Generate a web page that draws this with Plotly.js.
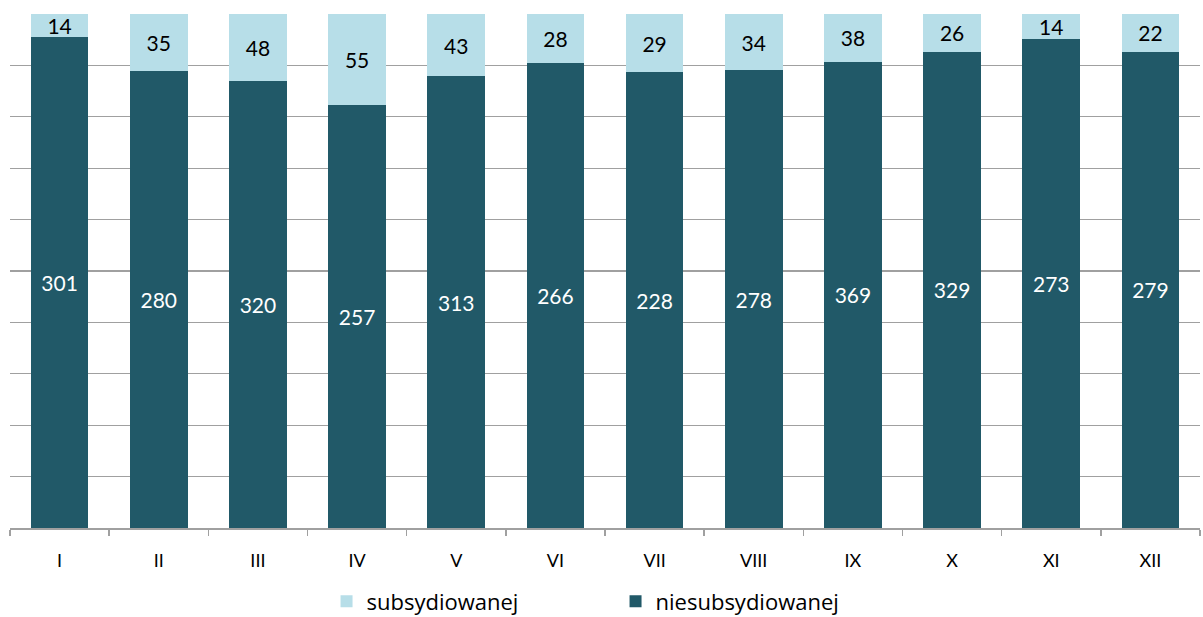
<!DOCTYPE html>
<html>
<head>
<meta charset="utf-8">
<script src="https://cdn.plot.ly/plotly-3.0.1.min.js"></script>
<style>html,body{margin:0;padding:0;background:#fff;}#chart{width:1203px;height:617px;}</style>
</head>
<body>
<div id="chart"></div>
<script>
const months = ["I","II","III","IV","V","VI","VII","VIII","IX","X","XI","XII"];
const niesubsydiowanej = [301,280,320,257,313,266,228,278,369,329,273,279];
const subsydiowanej = [14,35,48,55,43,28,29,34,38,26,14,22];

const traces = [
  {
    type: "bar", name: "niesubsydiowanej", x: months, y: niesubsydiowanej,
    text: niesubsydiowanej.map(String), textposition: "inside", insidetextanchor: "middle",
    textangle: 0, constraintext: "none",
    textfont: {color: "#ffffff", size: 21, family: "Lato, 'Open Sans', sans-serif"},
    marker: {color: "#215968"}, hoverinfo: "skip"
  },
  {
    type: "bar", name: "subsydiowanej", x: months, y: subsydiowanej,
    text: subsydiowanej.map(String), textposition: "inside", insidetextanchor: "middle",
    textangle: 0, constraintext: "none",
    textfont: {color: "#000000", size: 21, family: "Lato, 'Open Sans', sans-serif"},
    marker: {color: "#B7DEE8"}, hoverinfo: "skip"
  }
];

const layout = {
  width: 1203, height: 617,
  margin: {l: 10, r: 3, t: 14, b: 89, autoexpand: false},
  barmode: "stack", barnorm: "percent", bargap: 0.42,
  paper_bgcolor: "#ffffff", plot_bgcolor: "#ffffff",
  font: {family: "Lato, 'Open Sans', sans-serif", color: "#000000"},
  showlegend: true,
  legend: {
    orientation: "h", x: 0.266, xanchor: "left", y: -0.143, yanchor: "middle",
    traceorder: "reversed", font: {size: 22, family: "'Open Sans', Lato, sans-serif"},
    entrywidth: 244, itemwidth: 30, borderwidth: 0, bgcolor: "rgba(0,0,0,0)"
  },
  xaxis: {
    type: "category", tickson: "boundaries", ticks: "outside", ticklen: 6,
    tickcolor: "#a0a0a0", tickwidth: 1.5, showline: true, linecolor: "#a0a0a0", linewidth: 1.5,
    showgrid: false, tickfont: {size: 18}, ticklabelstandoff: 16, fixedrange: true, automargin: false
  },
  yaxis: {
    range: [0, 100], dtick: 10, showticklabels: false, showgrid: true,
    gridcolor: "#a0a0a0", gridwidth: 1.2, zeroline: false, ticks: "", fixedrange: true, automargin: false
  }
};

Plotly.newPlot("chart", traces, layout, {staticPlot: true});
</script>
</body>
</html>
